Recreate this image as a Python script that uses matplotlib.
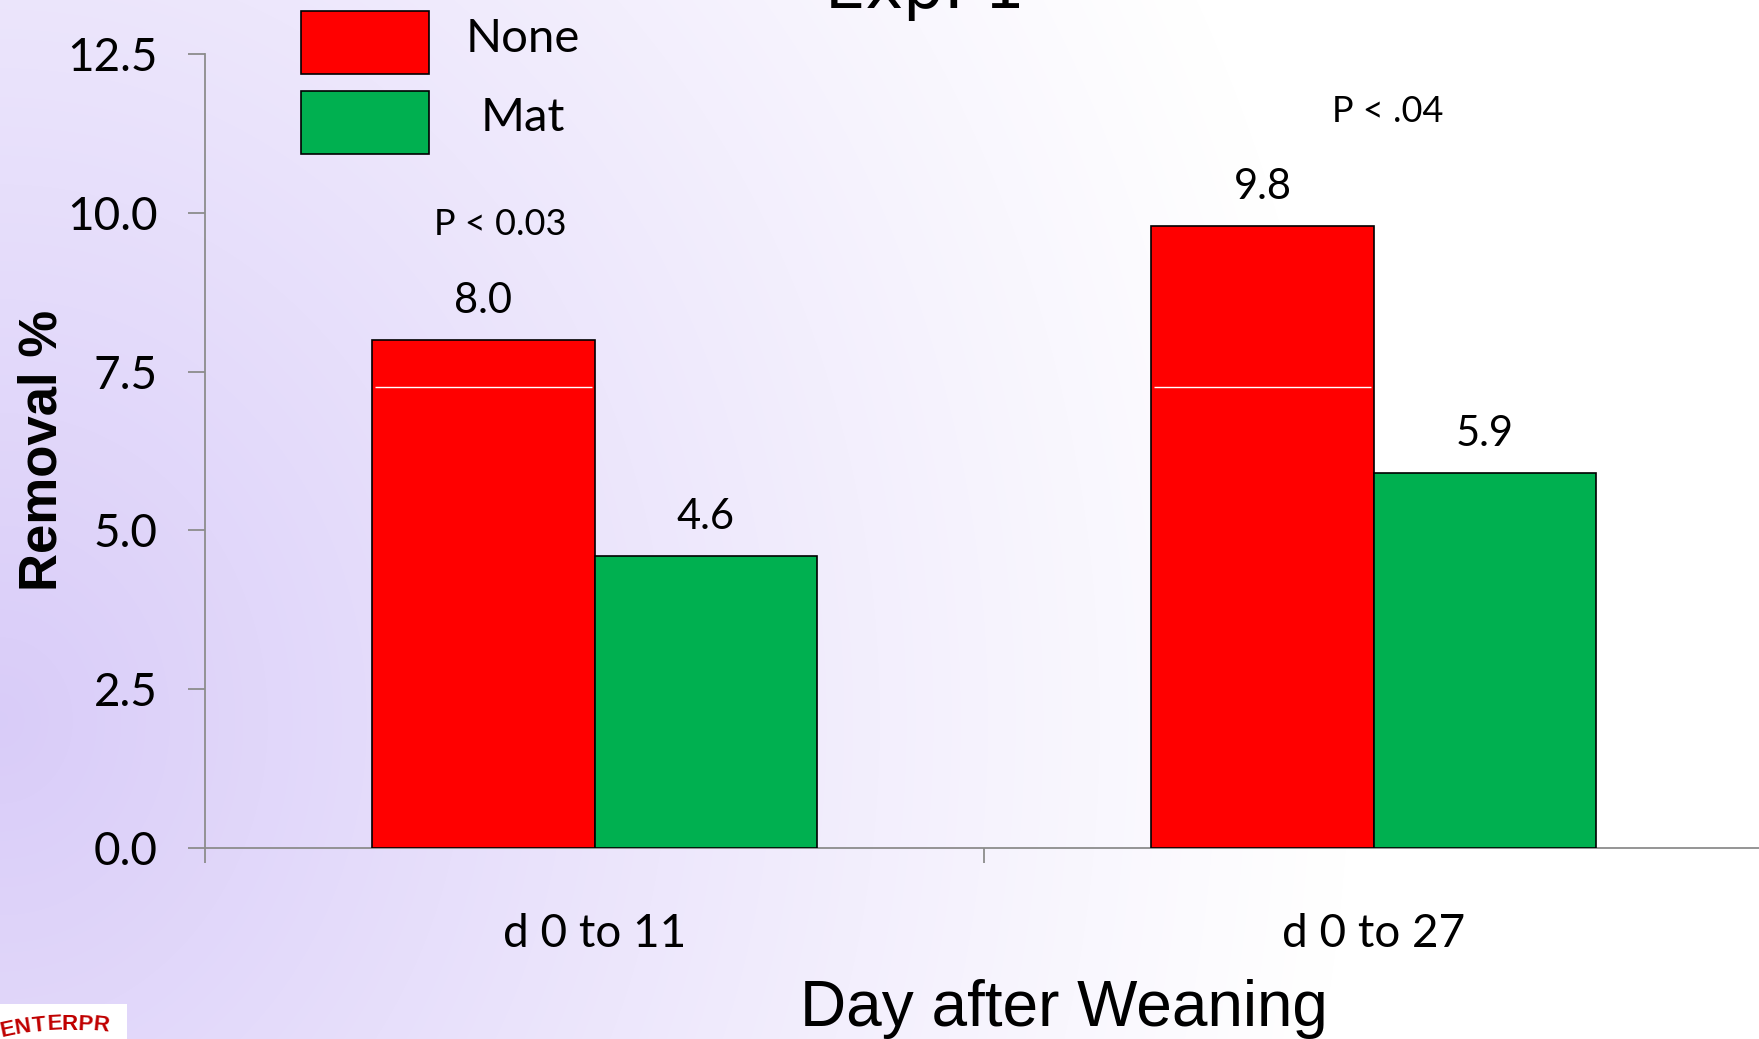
import numpy as np
import matplotlib
matplotlib.use("Agg")
import matplotlib.pyplot as plt
from matplotlib.patches import Rectangle

# data
categories = ["d 0 to 11", "d 0 to 27"]
none_vals = [8.0, 9.8]
mat_vals = [4.6, 5.9]
series_names = ["None", "Mat"]
p_labels = ["P < 0.03", "P < .04"]
y_ticks = [0.0, 2.5, 5.0, 7.5, 10.0, 12.5]
logo_text = "ENTERPR"

RED = "#ff0000"
GREEN = "#00b050"
AXIS_GRAY = "#8c8c8c"
CAL = ["Lato", "DejaVu Sans"]
ARIAL = ["Liberation Sans", "DejaVu Sans"]

W, H = 1759, 1039
fig = plt.figure(figsize=(W / 100, H / 100), dpi=100)

# lavender -> white background, strongest on the left edge around y=720px
bg = fig.add_axes([0, 0, 1, 1], zorder=-5)
yy, xx = np.mgrid[0:H, 0:W]
d = np.sqrt((xx / 1.0) ** 2 + ((yy - 720) / 1.15) ** 2)
w = np.clip(1 - d / 1350.0, 0, 1) ** 1.1
lav = np.array([0.85, 0.80, 0.975])
img = (1 - w[..., None]) * np.ones(3) + w[..., None] * lav
bg.imshow(img, aspect="auto", extent=[0, 1, 0, 1], origin="upper")
bg.axis("off")

ax = fig.add_axes([205 / W, 191 / H, (1763 - 205) / W, 794 / H])
ax.set_facecolor("none")

x = np.arange(len(categories))
bw = 0.285
b1 = ax.bar(x - bw / 2, none_vals, bw, color=RED, edgecolor="black", linewidth=1.2, zorder=3)
b2 = ax.bar(x + bw / 2, mat_vals, bw, color=GREEN, edgecolor="black", linewidth=1.2, zorder=3)

# thin white rendering line visible inside the red bars
for r in b1:
    ax.hlines(7.25, r.get_x() + 0.003, r.get_x() + r.get_width() - 0.003,
              color="white", linewidth=1.0, zorder=4)

for bars, vals in [(b1, none_vals), (b2, mat_vals)]:
    for r, v in zip(bars, vals):
        ax.annotate(f"{v:.1f}", (r.get_x() + r.get_width() / 2, v),
                    xytext=(0, 28), textcoords="offset points",
                    ha="center", va="center", fontsize=30, family=CAL)

ax.text(-0.121, 9.82, p_labels[0], ha="center", va="center", fontsize=26, family=CAL)
ax.text(1.018, 11.60, p_labels[1], ha="center", va="center", fontsize=26, family=CAL)

ax.set_xlim(-0.5, 1.5)
ax.set_ylim(0, 12.5)
ax.set_yticks(y_ticks)
ax.set_yticklabels([f"{t:.1f}" for t in y_ticks], fontsize=33, family=CAL)
ax.tick_params(axis="y", direction="out", length=12, width=1.3, color=AXIS_GRAY, pad=22)

ax.set_xticks([-0.5, 0.5, 1.5])
ax.set_xticklabels([])
ax.tick_params(axis="x", which="major", direction="out", length=11, width=1.3, color=AXIS_GRAY)
ax.set_xticks(x, minor=True)
ax.set_xticklabels(categories, minor=True, fontsize=33, family=CAL)
ax.tick_params(axis="x", which="minor", length=0, pad=47)

for s in ["top", "right"]:
    ax.spines[s].set_visible(False)
for s in ["left", "bottom"]:
    ax.spines[s].set_color(AXIS_GRAY)
    ax.spines[s].set_linewidth(1.3)

# axis titles
fig.text(0.0244, 0.566, "Removal %", rotation=90, ha="center", va="center",
         fontsize=38, fontweight="bold", family=ARIAL)
fig.text(1064 / W, 13 / H, "Day after Weaning", ha="center", va="baseline",
         fontsize=46, family=ARIAL)
fig.text(925 / W, 1 - 8 / H, "Exp. 1", ha="center", va="baseline", fontsize=46,
         family=["DejaVu Sans"])

# legend boxes
for i, (name, col) in enumerate(zip(series_names, [RED, GREEN])):
    top = [11, 91][i]
    fig.patches.append(Rectangle((301 / W, 1 - (top + 63) / H), 128 / W, 63 / H,
                                 facecolor=col, edgecolor="black", linewidth=1.2,
                                 transform=fig.transFigure, figure=fig))
    fig.text(523 / W, 1 - [39, 118][i] / H, name, ha="center", va="center",
             fontsize=34, family=CAL)

# corner of a logo in the lower-left corner
logo_ax = fig.add_axes([0, 0, 127 / W, 35 / H])
logo_ax.set_facecolor("white")
logo_ax.set_xlim(0, 127)
logo_ax.set_ylim(0, 35)
logo_ax.set_xticks([])
logo_ax.set_yticks([])
for s in logo_ax.spines.values():
    s.set_visible(False)
for k, ch in enumerate(logo_text):
    ang = np.radians(102 - k * 3.0)
    cx, cy = 70 + 300 * np.cos(ang), -285 + 300 * np.sin(ang)
    logo_ax.text(cx, cy, ch, color="#c00000", fontsize=16, fontweight="bold",
                 ha="center", va="center", rotation=np.degrees(ang) - 90,
                 family=ARIAL)

fig.savefig("out.png", dpi=100)
